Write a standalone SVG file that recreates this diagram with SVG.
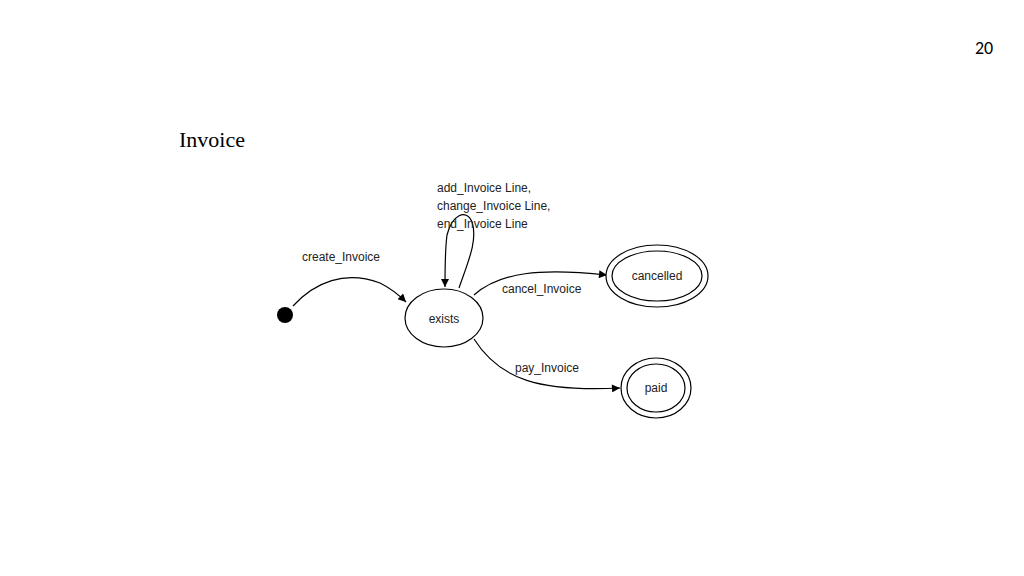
<svg xmlns="http://www.w3.org/2000/svg" width="1024" height="576" viewBox="0 0 1024 576">
<style>
.n{fill:#fff;stroke:#000;stroke-width:1.2}
.t{font-family:"Liberation Sans",Arial,sans-serif;font-size:12px;fill:#222}
.e{fill:none;stroke:#000;stroke-width:1.2}
</style>
<defs><marker id="a" viewBox="0 0 10 10" refX="10" refY="5" markerWidth="10" markerHeight="8" markerUnits="userSpaceOnUse" orient="auto"><path d="M0,0L10,5L0,10z" fill="#000"/></marker></defs>
<rect width="1024" height="576" fill="#fff"/>
<text x="984" y="54" font-family="Calibri,'Liberation Sans',sans-serif" font-size="18" text-anchor="middle">20</text>
<text x="179" y="147" font-family="'Liberation Serif',serif" font-size="22">Invoice</text>
<g id="edges">
<path class="e" d="M293,306 C315,282 345,270 380,283 C392,289 400,296 406,302" marker-end="url(#a)"/>
<path class="e" d="M459,288 C468,262 478,240 472,222 C466,208 452,215 447,235 C445,250 445,270 445,287" marker-end="url(#a)"/>
<path class="e" d="M474,295 C500,272 540,268 607,275" marker-end="url(#a)"/>
<path class="e" d="M474,339 C500,380 540,392 620,388" marker-end="url(#a)"/>
<text class="t" x="302" y="261">create_Invoice</text>
<text class="t" x="437" y="192">add_Invoice Line,</text>
<text class="t" x="437" y="210">change_Invoice Line,</text>
<text class="t" x="437" y="228">end_Invoice Line</text>
<text class="t" x="502" y="293">cancel_Invoice</text>
<text class="t" x="515" y="372">pay_Invoice</text>
</g>
<g id="start"><circle cx="285" cy="315" r="8" fill="#000"/></g>
<g id="exists"><ellipse class="n" cx="444" cy="318" rx="39" ry="29"/><text class="t" x="444" y="323" text-anchor="middle">exists</text></g>
<g id="cancelled"><ellipse class="n" cx="657" cy="276" rx="51" ry="31"/><ellipse class="n" cx="657" cy="276" rx="45" ry="25"/><text class="t" x="657" y="280" text-anchor="middle">cancelled</text></g>
<g id="paid"><ellipse class="n" cx="656" cy="388" rx="35" ry="30"/><ellipse class="n" cx="656" cy="388" rx="29" ry="24"/><text class="t" x="656" y="392" text-anchor="middle">paid</text></g>
</svg>
